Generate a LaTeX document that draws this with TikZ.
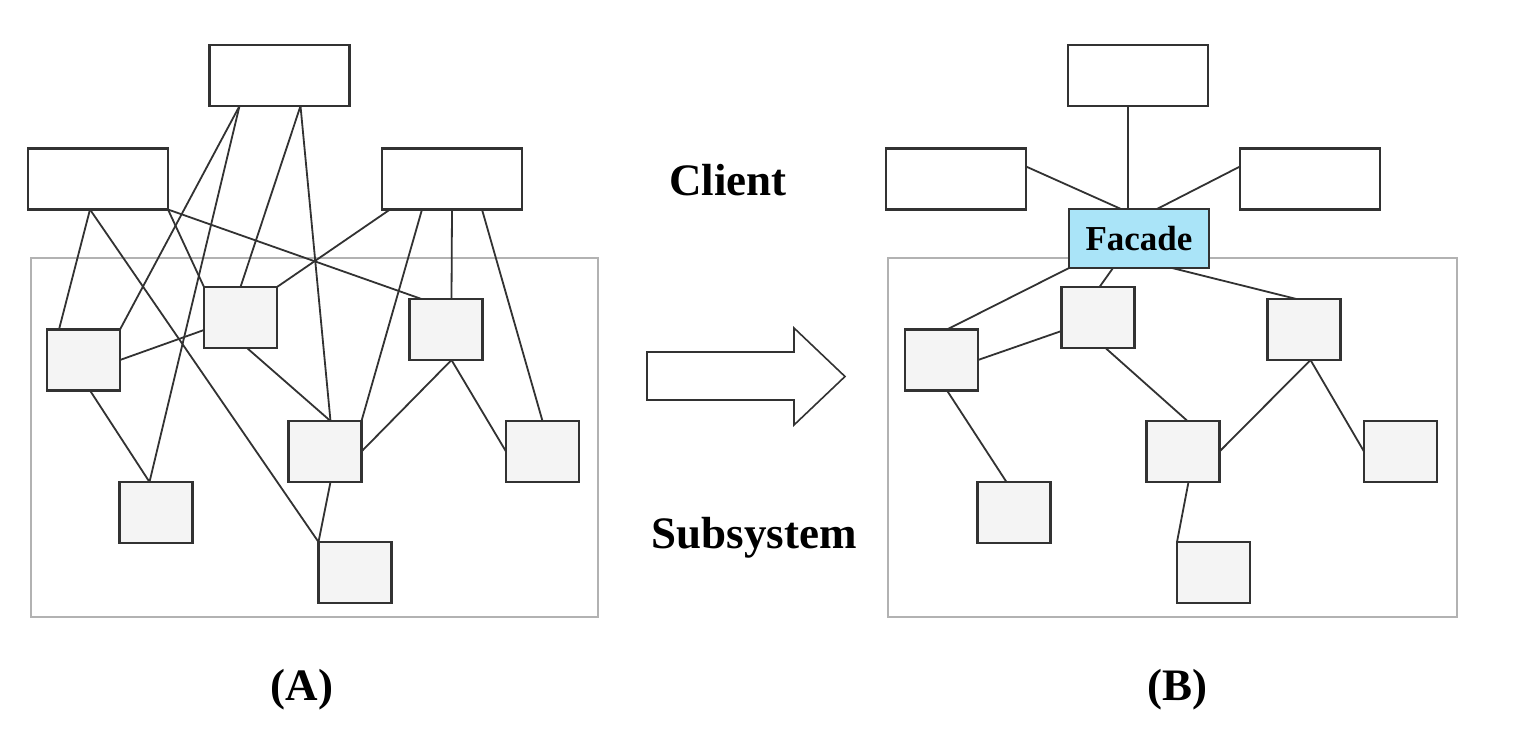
\documentclass[tikz,border=0pt]{standalone}
\usepackage{fontspec}
\setmainfont{Liberation Serif}
\usetikzlibrary{calc}
\definecolor{edge}{RGB}{50,50,50}
\definecolor{sqfill}{RGB}{244,244,244}
\definecolor{subgray}{RGB}{178,178,178}
\definecolor{facadeblue}{RGB}{170,228,248}
\begin{document}
\begin{tikzpicture}[x=1pt,y=-1pt,
  clientbox/.style={draw=edge,line width=2.2pt,fill=white,minimum width=140pt,minimum height=61pt,inner sep=0pt,outer sep=0pt},
  sqbox/.style={draw=edge,line width=2.2pt,fill=sqfill,minimum width=73pt,minimum height=61pt,inner sep=0pt,outer sep=0pt},
  facadebox/.style={draw=edge,line width=2.2pt,fill=facadeblue,minimum width=140pt,minimum height=59pt,inner sep=0pt,outer sep=0pt,font=\fontsize{35}{40}\selectfont\bfseries},
  subbox/.style={draw=subgray,line width=2pt},
  conn/.style={draw=edge,line width=1.8pt},
  bigarrow/.style={draw=edge,line width=1.6pt,fill=white,line join=miter},
  lbl/.style={font=\fontsize{45}{50}\selectfont\bfseries,inner sep=0pt}
]
\useasboundingbox (0,0) rectangle (1532,754);
\fill[white] (0,0) rectangle (1532,754);

% ---------- Panel A ----------
\draw[subbox] (31,258) rectangle (598,617);
\node[clientbox] (T1) at (279.5,75.5) {};
\node[clientbox] (L1) at (98,179) {};
\node[clientbox] (R1) at (452,179) {};
\node[sqbox] (A) at (83.5,360) {};
\node[sqbox] (B) at (240.5,317.5) {};
\node[sqbox] (C) at (446,329.5) {};
\node[sqbox] (D) at (325,451.5) {};
\node[sqbox] (E) at (542.5,451.5) {};
\node[sqbox] (F) at (156,512.5) {};
\node[sqbox] (G) at (355,572.5) {};

\draw[conn] ([xshift=30pt]T1.south west) -- (A.north east);
\draw[conn] ([xshift=30pt]T1.south west) -- ([xshift=30pt]F.north west);
\draw[conn] ([xshift=91pt]T1.south west) -- (B.north);
\draw[conn] ([xshift=91pt]T1.south west) -- ([xshift=42pt]D.north west);
\draw[conn] ([xshift=62pt]L1.south west) -- ([xshift=12pt]A.north west);
\draw[conn] ([xshift=62pt]L1.south west) -- (G.north west);
\draw[conn] (L1.south east) -- (B.north west);
\draw[conn] (L1.south east) -- ([xshift=12pt]C.north west);
\draw[conn] ([xshift=8pt]R1.south west) -- (B.north east);
\draw[conn] ([xshift=40pt]R1.south west) -- (D.north east);
\draw[conn] (R1.south) -- ([xshift=42pt]C.north west);
\draw[conn] ([xshift=100pt]R1.south west) -- (E.north);
\draw[conn] (A.east) -- ([yshift=-43pt]B.north west);
\draw[conn] ([xshift=43pt]A.south west) -- ([xshift=30pt]F.north west);
\draw[conn] ([xshift=43pt]B.south west) -- ([xshift=42pt]D.north west);
\draw[conn] ([xshift=42pt]C.south west) -- (D.east);
\draw[conn] ([xshift=42pt]C.south west) -- (E.west);
\draw[conn] ([xshift=42pt]D.south west) -- (G.north west);

% ---------- Middle ----------
\node[lbl] (client) at (728,180) {Client};
\node[lbl] (subsys) at (754,538) {Subsystem};
\draw[bigarrow] (647,352) -- (794,352) -- (794,328) -- (845,376.5) -- (794,425) -- (794,400) -- (647,400) -- cycle;
\node[lbl] (labA) at (302,690) {(A)};
\node[lbl] (labB) at (1177,690) {(B)};

% ---------- Panel B ----------
\draw[subbox] (888,258) rectangle (1457,617);
\node[clientbox] (T2) at (1138,75.5) {};
\node[clientbox] (L2) at (956,179) {};
\node[clientbox] (R2) at (1310,179) {};
\node[facadebox] (Fa) at (1139,238.5) {Facade};
\node[sqbox] (B1) at (941.5,360) {};
\node[sqbox] (B2) at (1098,317.5) {};
\node[sqbox] (B3) at (1304,329.5) {};
\node[sqbox] (B4) at (1183,451.5) {};
\node[sqbox] (B5) at (1400.5,451.5) {};
\node[sqbox] (B6) at (1014,512.5) {};
\node[sqbox] (B7) at (1213.5,572.5) {};

\draw[conn] ([xshift=60pt]T2.south west) -- ([xshift=59pt]Fa.north west);
\draw[conn] ([yshift=-18pt]L2.north east) -- ([xshift=52pt]Fa.north west);
\draw[conn] ([yshift=-18pt]R2.north west) -- ([xshift=88pt]Fa.north west);
\draw[conn] (Fa.south west) -- ([xshift=42pt]B1.north west);
\draw[conn] ([xshift=44pt]Fa.south west) -- ([xshift=38pt]B2.north west);
\draw[conn] ([xshift=103pt]Fa.south west) -- ([xshift=29pt]B3.north west);
\draw[conn] (B1.east) -- ([yshift=-44pt]B2.north west);
\draw[conn] ([xshift=42pt]B1.south west) -- ([xshift=29pt]B6.north west);
\draw[conn] ([xshift=44pt]B2.south west) -- ([xshift=41pt]B4.north west);
\draw[conn] ([xshift=43pt]B3.south west) -- (B4.east);
\draw[conn] ([xshift=43pt]B3.south west) -- (B5.west);
\draw[conn] ([xshift=42pt]B4.south west) -- (B7.north west);
\end{tikzpicture}
\end{document}
